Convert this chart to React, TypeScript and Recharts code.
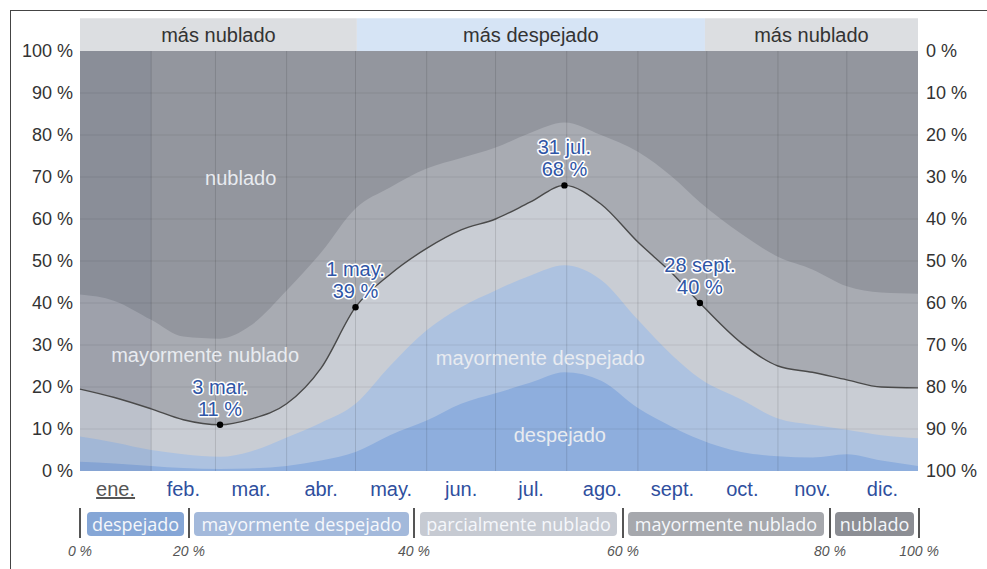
import React from 'react';
import {
  ComposedChart,
  Area,
  Line,
  XAxis,
  YAxis,
  ReferenceArea,
  ReferenceLine,
  ReferenceDot,
} from 'recharts';

// Day of year (0 = 1 Jan)
const days = [0, 15, 31, 45, 61, 74, 90, 105, 120, 135, 151, 166, 181, 196, 211, 227, 243, 258, 270, 288, 304, 319, 334, 349, 365];
// cumulative percentage tops of each sky category
const clearTop = [2.2, 1.8, 1.2, 0.7, 0.5, 0.6, 1.2, 2.5, 4.5, 8.5, 12, 16, 18.5, 21, 23.5, 21.5, 15, 10.5, 7.5, 4.5, 3.5, 3.2, 4, 2.5, 1.2];
const mostlyClearTop = [8.2, 6.8, 5, 4, 3.4, 4.6, 8, 11.5, 16, 25, 33.5, 39, 43, 46.5, 49, 45.5, 36, 27.5, 22, 17, 12.5, 11, 9.8, 8.5, 7.8];
const partlyCloudyTop = [19.5, 17.5, 14.8, 12.2, 11, 12.3, 16, 24.5, 39, 46.8, 53, 57.4, 60, 64, 68, 63.5, 54.5, 47, 40, 30.5, 25, 23.5, 21.7, 20, 19.8];
const mostlyCloudyTop = [42, 40.5, 36, 32, 31.5, 34.5, 43, 52, 62.5, 67.5, 72, 74.5, 77, 80.5, 83, 80, 76, 70, 64, 56.5, 51, 48, 44, 42.5, 42.2];
const overcastTop = [100, 100, 100, 100, 100, 100, 100, 100, 100, 100, 100, 100, 100, 100, 100, 100, 100, 100, 100, 100, 100, 100, 100, 100, 100];

const monthLabels = ['ene.', 'feb.', 'mar.', 'abr.', 'may.', 'jun.', 'jul.', 'ago.', 'sept.', 'oct.', 'nov.', 'dic.'];
const monthMidDays = [15.5, 45, 74.5, 105, 135.5, 166, 196.5, 227.5, 258, 288.5, 319, 349.5];
const monthStartDays = [31, 59, 90, 120, 151, 181, 212, 243, 273, 304, 334];
const pctTicks = [0, 10, 20, 30, 40, 50, 60, 70, 80, 90, 100];

const annotations = [
  { day: 61, value: 11, date: '3 mar.' },
  { day: 120, value: 39, date: '1 may.' },
  { day: 211, value: 68, date: '31 jul.' },
  { day: 270, value: 40, date: '28 sept.' },
];

const seasonBands = [
  { from: 0, to: 120.6, label: 'más nublado', fill: '#dcdee1' },
  { from: 120.6, to: 272.2, label: 'más despejado', fill: '#d6e4f5' },
  { from: 272.2, to: 365, label: 'más nublado', fill: '#dcdee1' },
];

const regionLabels = [
  { day: 70, value: 69.8, text: 'nublado' },
  { day: 54.5, value: 27.6, text: 'mayormente nublado' },
  { day: 200.5, value: 27, text: 'mayormente despejado' },
  { day: 209, value: 8.6, text: 'despejado' },
];

const legendItems = ['despejado', 'mayormente despejado', 'parcialmente nublado', 'mayormente nublado', 'nublado'];
const legendColors = ['#85a6d6', '#a3b9db', '#c6cad2', '#a6a8ad', '#8c8e94'];
const legendPctLabels = ['0 %', '20 %', '40 %', '60 %', '80 %', '100 %'];

const data = days.map((d, i) => ({
  day: d,
  clear: clearTop[i],
  mostlyClear: mostlyClearTop[i],
  partly: partlyCloudyTop[i],
  mostlyCloudy: mostlyCloudyTop[i],
  overcast: overcastTop[i],
  notPartly: 100 - partlyCloudyTop[i],
}));

const FONT = '"Liberation Sans", Arial, sans-serif';

const MonthTick = (props: any) => {
  const { x, y, payload } = props;
  const idx = monthMidDays.indexOf(payload.value);
  const current = idx === 0;
  return (
    <text
      x={x}
      y={y + 25}
      textAnchor="middle"
      fill={current ? '#555' : '#2f4f9e'}
      fontSize={20}
      fontFamily={FONT}
      textDecoration={current ? 'underline' : undefined}
    >
      {monthLabels[idx]}
    </text>
  );
};

const RightTick = (props: any) => {
  const { x, y, payload } = props;
  return (
    <text x={x} y={y} dy="0.355em" textAnchor="start" fill="#333" fontSize={18} fontFamily={FONT}>
      {`${payload.value} %`}
    </text>
  );
};

const makeAnnotationShape = (date: string, value: number) => (props: any) => {
  const { cx, cy } = props;
  const common = {
    textAnchor: 'middle' as const,
    fill: '#2f56a6',
    stroke: '#ffffff',
    strokeWidth: 3,
    strokeLinejoin: 'round' as const,
    paintOrder: 'stroke',
    fontSize: 20,
    fontFamily: FONT,
  };
  return (
    <g>
      <text x={cx} y={cy - 31} {...common}>{date}</text>
      <text x={cx} y={cy - 9} {...common}>{`${value} %`}</text>
      <circle cx={cx} cy={cy} r={3.2} fill="#000" />
    </g>
  );
};

const makeRegionShape = (text: string) => (props: any) => {
  const { cx, cy } = props;
  return (
    <text x={cx} y={cy} dy="0.35em" textAnchor="middle" fill="#e8ebf0" fontSize={20} fontFamily={FONT}>
      {text}
    </text>
  );
};

const legendSepX = [80, 189, 414, 623, 830, 919];
const badgeBoxes = [
  [87, 184],
  [194, 409],
  [420, 617],
  [628, 824],
  [835, 914],
];

export default function App() {
  return (
    <div
      style={{
        position: 'absolute',
        left: 0,
        top: 0,
        width: 987,
        height: 569,
        background: '#fff',
        overflow: 'hidden',
        fontFamily: FONT,
      }}
    >
      <div
        style={{
          position: 'absolute',
          left: 10,
          top: 10,
          width: 990,
          height: 600,
          borderLeft: '1px solid #444',
          borderTop: '1px solid #444',
        }}
      />
      <div style={{ position: 'absolute', left: 0, top: 0 }}>
        <ComposedChart
          width={987}
          height={569}
          data={data}
          margin={{ top: 51, right: 0, bottom: 0, left: 0 }}
          style={{ fontFamily: FONT }}
        >
          <XAxis
            dataKey="day"
            type="number"
            domain={[0, 365]}
            ticks={monthMidDays}
            interval={0}
            height={98}
            tickLine={false}
            axisLine={false}
            tickSize={0}
            tickMargin={0}
            tick={<MonthTick />}
          />
          <YAxis
            yAxisId="pct"
            type="number"
            domain={[0, 100]}
            ticks={pctTicks}
            width={80}
            tickLine={false}
            axisLine={false}
            tickSize={0}
            tickMargin={7}
            tickFormatter={(v: number) => `${v} %`}
            tick={{ fill: '#333', fontSize: 18, fontFamily: FONT }}
          />
          <YAxis
            yAxisId="inv"
            orientation="right"
            type="number"
            domain={[0, 100]}
            reversed
            ticks={pctTicks}
            interval={0}
            width={69}
            tickLine={false}
            axisLine={false}
            tickSize={0}
            tickMargin={8}
            tick={<RightTick />}
          />
          {seasonBands.map((b, i) => (
            <ReferenceArea
              key={`band-${i}`}
              yAxisId="pct"
              x1={b.from}
              x2={b.to}
              y1={100}
              y2={107.8}
              ifOverflow="visible"
              fill={b.fill}
              fillOpacity={1}
              stroke="none"
              label={{ value: b.label, position: 'center', fill: '#333', fontSize: 20, fontFamily: FONT }}
            />
          ))}
          <Area yAxisId="pct" type="monotone" dataKey="overcast" baseValue={0} fill="#93969e" fillOpacity={1} stroke="none" isAnimationActive={false} />
          <Area yAxisId="pct" type="monotone" dataKey="mostlyCloudy" baseValue={0} fill="#a8abb2" fillOpacity={1} stroke="none" isAnimationActive={false} />
          <Area yAxisId="pct" type="monotone" dataKey="partly" baseValue={0} fill="#c9cdd4" fillOpacity={1} stroke="none" isAnimationActive={false} />
          <Area yAxisId="pct" type="monotone" dataKey="mostlyClear" baseValue={0} fill="#adc2e0" fillOpacity={1} stroke="none" isAnimationActive={false} />
          <Area yAxisId="pct" type="monotone" dataKey="clear" baseValue={0} fill="#8eaedd" fillOpacity={1} stroke="none" isAnimationActive={false} />
          <ReferenceArea yAxisId="pct" x1={0} x2={31} y1={0} y2={100} fill="#1c2c55" fillOpacity={0.07} stroke="none" />
          {pctTicks.slice(1, -1).map((t) => (
            <ReferenceLine key={`h-${t}`} yAxisId="pct" y={t} stroke="#000" strokeOpacity={0.08} />
          ))}
          {monthStartDays.map((d) => (
            <ReferenceLine key={`v-${d}`} yAxisId="pct" x={d} stroke="#000" strokeOpacity={0.12} />
          ))}
          <Line yAxisId="inv" type="monotone" dataKey="notPartly" stroke="none" strokeOpacity={0} dot={false} activeDot={false} isAnimationActive={false} />
          <Line yAxisId="pct" type="monotone" dataKey="partly" stroke="#4a4a4a" strokeWidth={1.4} dot={false} isAnimationActive={false} />
          {regionLabels.map((r, i) => (
            <ReferenceDot key={`rl-${i}`} yAxisId="pct" x={r.day} y={r.value} r={0} shape={makeRegionShape(r.text)} />
          ))}
          {annotations.map((a, i) => (
            <ReferenceDot key={`an-${i}`} yAxisId="pct" x={a.day} y={a.value} r={3} shape={makeAnnotationShape(a.date, a.value)} />
          ))}
        </ComposedChart>
      </div>
      {legendSepX.map((x, i) => (
        <React.Fragment key={`sep-${i}`}>
          <div style={{ position: 'absolute', left: x - 1, top: 508, width: 1.5, height: 30, background: '#555' }} />
          <div
            style={{
              position: 'absolute',
              left: x - 30,
              top: 543,
              width: 60,
              textAlign: 'center',
              fontSize: 14,
              fontStyle: 'italic',
              color: '#555',
              fontFamily: FONT,
            }}
          >
            {legendPctLabels[i]}
          </div>
        </React.Fragment>
      ))}
      {legendItems.map((name, i) => (
        <div
          key={`badge-${i}`}
          style={{
            position: 'absolute',
            left: badgeBoxes[i][0],
            top: 512,
            width: badgeBoxes[i][1] - badgeBoxes[i][0],
            height: 24,
            background: legendColors[i],
            borderRadius: 4,
            color: '#f5f7fb',
            fontFamily: '"Open Sans", "Noto Sans", sans-serif',
            fontSize: 18,
            lineHeight: '24px',
            textAlign: 'center',
            whiteSpace: 'nowrap',
            overflow: 'hidden',
          }}
        >
          {name}
        </div>
      ))}
    </div>
  );
}
